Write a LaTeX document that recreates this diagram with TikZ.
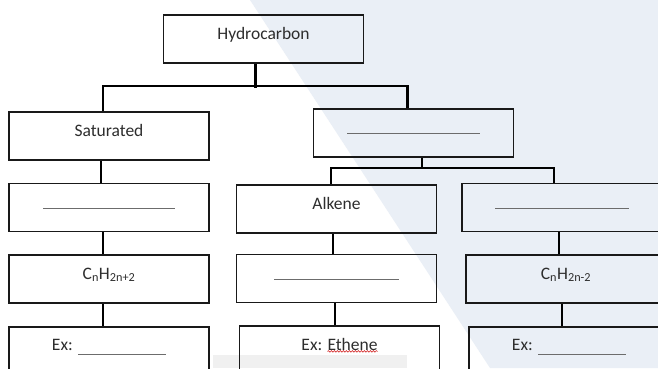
\documentclass[tikz,border=0pt]{standalone}
\usepackage{fontspec}
\setmainfont{Carlito}
\usetikzlibrary{positioning,decorations.pathmorphing}
\definecolor{bgblue}{RGB}{234,239,246}
\definecolor{ink}{RGB}{45,45,45}
\newcommand{\blank}[2][-1pt]{\textcolor{gray!85!black}{\rule[#1]{#2}{0.8pt}}}

\begin{document}
\begin{tikzpicture}[x=1pt,y=-1pt,font=\fontsize{17.5}{20}\selectfont,text=ink,node distance=22pt,
  box/.style={draw=black!90,line width=1.6pt,minimum width=200pt,inner sep=0pt,text height=24pt,text depth=24pt},
  wire/.style={draw=black,line width=2.1pt},
  squig/.style={draw=red!80!black,line width=0.5pt,decorate,decoration={snake,segment length=3pt,amplitude=0.8pt}}]
\useasboundingbox (0,0) rectangle (658,368);
% page background of the screenshot
\fill[white] (0,0) rectangle (658,368);
\fill[bgblue] (250,0) -- (658,0) -- (658,368) -- (490,368) -- cycle;
\fill[gray!12] (213,355) rectangle (407,368);
% top levels
\node[box] (hc) at (263.5,39) {Hydrocarbon};
\node[box] (sat) at (109,136) {Saturated};
\node[box] (uns) at (413.5,133) {\blank{133pt}};
% saturated column
\node[box,below=of sat] (sat2) {\blank{132pt}};
\node[box,below=of sat2] (satf) {C\textsubscript{n}H\textsubscript{2n+2}};
\node[box,below=of satf] (satx) {Ex: \blank[-4pt]{88pt}};
% alkene column
\node[box] (alk) at (336.5,209) {Alkene};
\node[box,below=20pt of alk] (alkf) {\blank{125pt}};
\node[box,below=of alkf,xshift=3pt] (alkx) {Ex: Ethene};
% third column
\node[box] (yne) at (562,207.5) {\blank{134pt}};
\node[box,below=of yne,xshift=4pt] (ynef) {C\textsubscript{n}H\textsubscript{2n-2}};
\node[box,below=of ynef,xshift=3pt] (ynex) {Ex: \blank[-4pt]{88pt}};
% tree lines
\draw[wire] ([xshift=-8pt]hc.south) -- ++(0,-24pt);
\draw[wire] ([xshift=-6pt]sat.north) -- ++(0,25pt) -| ([xshift=-6pt]uns.north);
\draw[wire] ([xshift=8.5pt]uns.south) -- ++(0,-11pt);
\draw[wire] ([xshift=-5.5pt]alk.north) -- ++(0,16pt) -| ([xshift=-8pt]yne.north);
\draw[wire] ([xshift=-8pt]sat.south) -- ([xshift=-8pt]sat.south |- sat2.north);
\draw[wire] ([xshift=-6pt]sat2.south) -- ([xshift=-6pt]sat2.south |- satf.north);
\draw[wire] ([xshift=-6pt]satf.south) -- ([xshift=-6pt]satf.south |- satx.north);
\draw[wire] ([xshift=-3.5pt]alk.south) -- ([xshift=-3.5pt]alk.south |- alkf.north);
\draw[wire] ([xshift=-1.5pt]alkf.south) -- ([xshift=-1.5pt]alkf.south |- alkx.north);
\draw[wire] ([xshift=-3pt]yne.south) -- ([xshift=-3pt]yne.south |- ynef.north);
\draw[wire] ([xshift=-4pt]ynef.south) -- ([xshift=-4pt]ynef.south |- ynex.north);
% spell-check mark
\draw[squig] ([xshift=-12pt,yshift=-26pt]alkx.north) -- ++(50pt,0);
\end{tikzpicture}
\end{document}
